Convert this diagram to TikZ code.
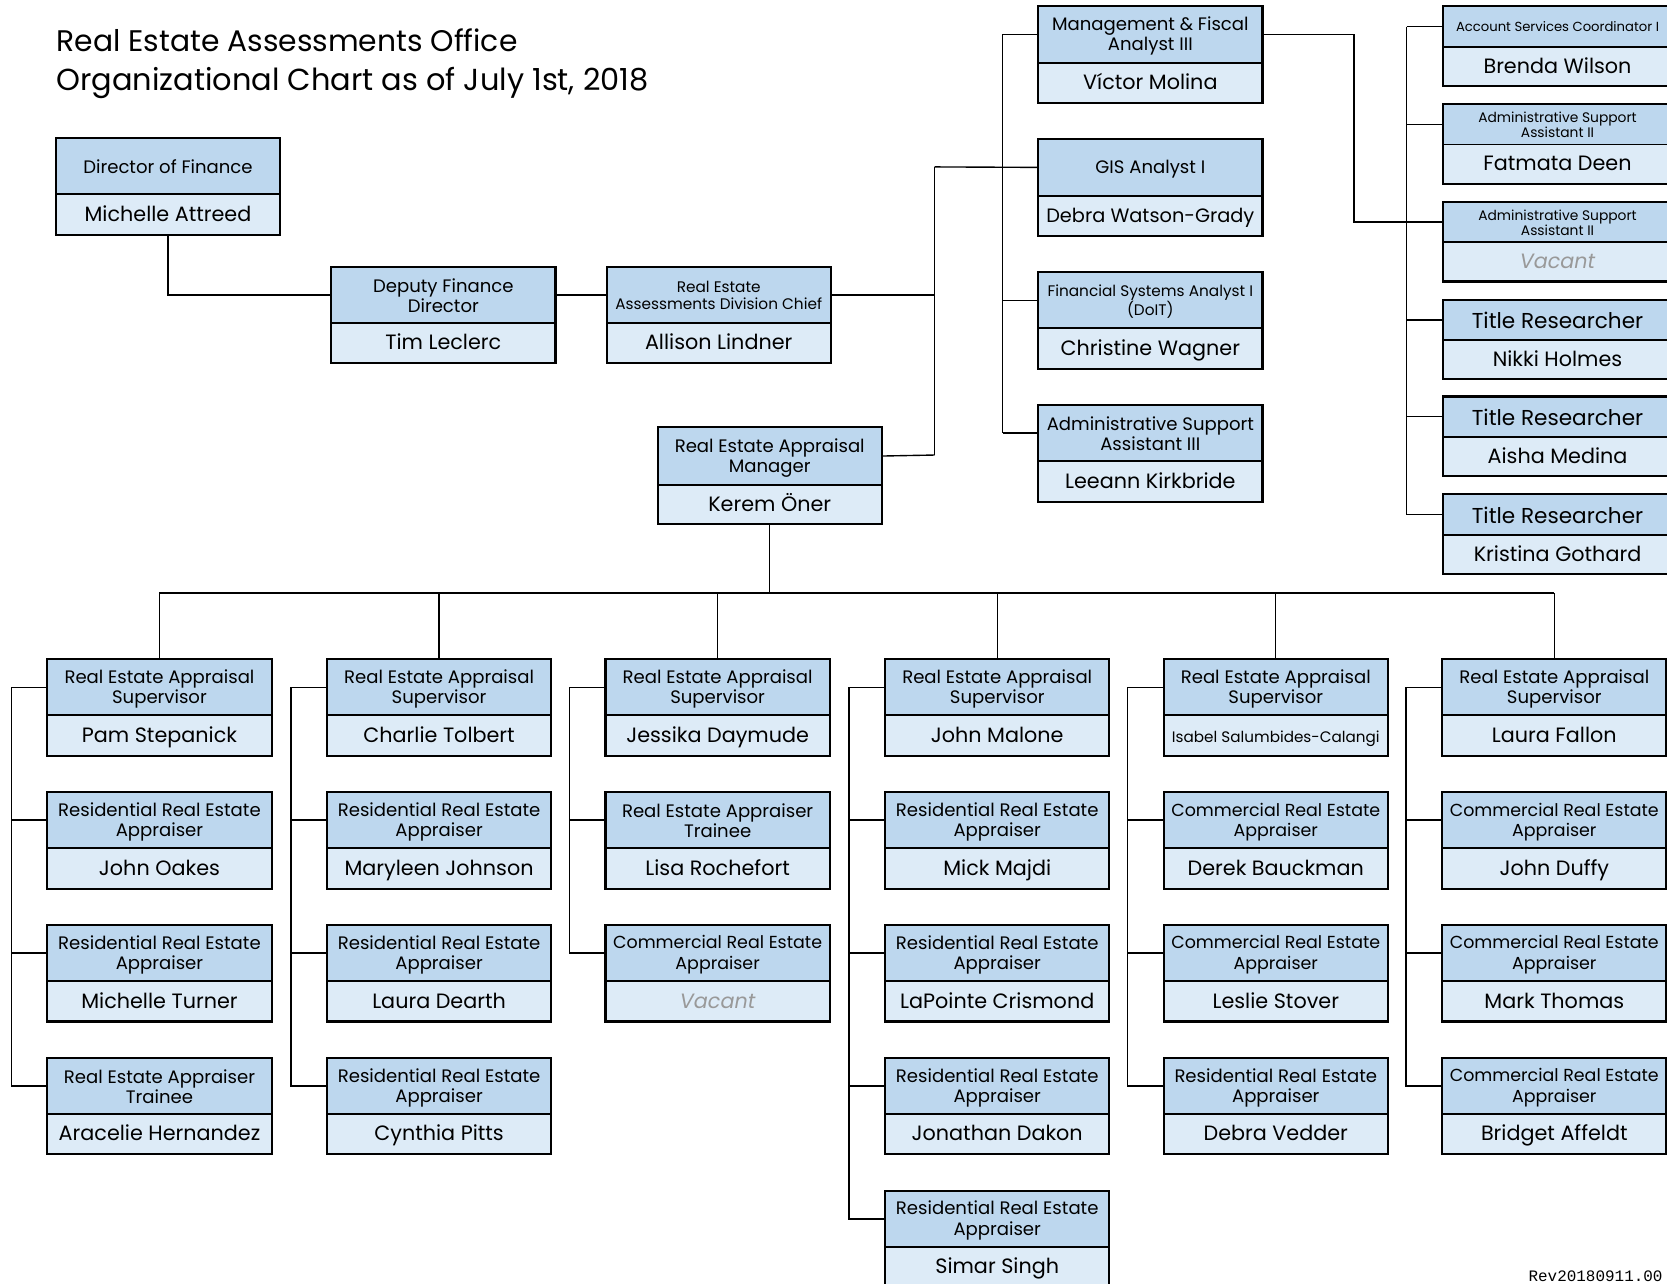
\documentclass[tikz,border=0pt]{standalone}
\usepackage{fontspec}
\setmainfont{Poppins}
\setmonofont{Liberation Mono}
\definecolor{hdrc}{HTML}{BDD7EE}
\definecolor{nmc}{HTML}{DDEBF7}
\definecolor{vac}{HTML}{999999}
\def\boxw{210}
\tikzset{
  hdr/.style={draw=black, line width=0.9pt, fill=hdrc, minimum width=\boxw pt, inner sep=0pt, align=center, font=\fontsize{17}{19}\selectfont},
  nm/.style={draw=black, line width=0.9pt, fill=nmc, minimum width=\boxw pt, inner sep=0pt, align=center, font=\fontsize{19.5}{22}\selectfont},
  hs/.style={font=\fontsize{14.4}{16}\selectfont},
  hxs/.style={font=\fontsize{12.4}{13.8}\selectfont},
  hxt/.style={font=\fontsize{13}{14}\selectfont},
  hbig/.style={font=\fontsize{20.3}{22}\selectfont},
  hcom/.style={font=\fontsize{16.4}{19}\selectfont},
  outer/.style={line width=2pt},
  conn/.style={line width=1.3pt, line join=miter}
}
\newcommand\topr{\rule{0pt}{0.95em}}
\newcommand\botr{\rule[-0.12em]{0pt}{0.12em}}
\newcommand\nmr{\rule[-0.25em]{0pt}{1.15em}}
\newcommand\obox[8]{%
  \node[hdr,#6,minimum height=#4pt,anchor=north] (#1) at (#2,#3) {\topr#7\botr};
  \node[nm,minimum height=#5pt,anchor=north] (#1n) at (#1.south) {\nmr#8};
  \draw[outer] (#1.north west) rectangle (#1n.south east);}
\newcommand\vac{{\color{vac}\itshape Vacant}}
\begin{document}
\begin{tikzpicture}[x=1pt,y=-1pt]
\useasboundingbox[fill=white] (0,0) rectangle (1568,1207);
\clip (0,0) rectangle (1568,1207);
% title
\node[anchor=base west, inner sep=0pt, font=\fontsize{28}{32}\selectfont] (t1) at (53,48) {Real Estate Assessments Office};
\node[anchor=base west, inner sep=0pt, font=\fontsize{28.6}{32}\selectfont] (t2) at (53,85) {Organizational Chart as of July 1st, 2018};
% top management
\obox{dir}{158}{130}{52}{37}{}{Director of Finance}{Michelle Attreed}
\obox{dep}{417}{251}{52}{37}{}{Deputy Finance\\Director}{Tim Leclerc}
\obox{chf}{676}{251}{52}{37}{hs}{Real Estate\\Assessments Division Chief}{Allison Lindner}
\obox{mgr}{724}{402}{53}{36}{}{Real Estate Appraisal\\Manager}{Kerem Öner}
% middle column
\obox{mfa}{1082}{6}{52}{37}{}{Management \& Fiscal\\Analyst III}{Víctor Molina}
\obox{gis}{1082}{131}{52}{37}{}{GIS Analyst I}{{\fontsize{18.2}{20}\selectfont Debra Watson-Grady}}
\obox{fsa}{1082}{256}{52}{37}{hs}{Financial Systems Analyst I\\(DoIT)}{Christine Wagner}
\obox{asa}{1082}{381}{52}{37}{}{Administrative Support\\Assistant III}{Leeann Kirkbride}
% right column
\def\boxw{214}
\obox{acs}{1465}{6}{37}{36}{hxs}{Account Services Coordinator I}{Brenda Wilson}
\obox{asb}{1465}{98}{37}{36}{hxt}{Administrative Support\\Assistant II}{Fatmata Deen}
\obox{asv}{1465}{190}{37}{36}{hxt}{Administrative Support\\Assistant II}{\vac}
\obox{tra}{1465}{282}{37}{36}{hbig}{Title Researcher}{Nikki Holmes}
\obox{trb}{1465}{373}{37}{36}{hbig}{Title Researcher}{Aisha Medina}
\obox{trc}{1465}{465}{37}{36}{hbig}{Title Researcher}{Kristina Gothard}
\def\boxw{210}
% bottom columns
\obox{c1a}{150}{620}{52}{37}{}{Real Estate Appraisal\\Supervisor}{Pam Stepanick}
\obox{c1b}{150}{745}{52}{37}{}{Residential Real Estate\\Appraiser}{John Oakes}
\obox{c1c}{150}{870}{52}{37}{}{Residential Real Estate\\Appraiser}{Michelle Turner}
\obox{c1d}{150}{995}{52}{37}{}{Real Estate Appraiser\\Trainee}{Aracelie Hernandez}
\obox{c2a}{413}{620}{52}{37}{}{Real Estate Appraisal\\Supervisor}{Charlie Tolbert}
\obox{c2b}{413}{745}{52}{37}{}{Residential Real Estate\\Appraiser}{Maryleen Johnson}
\obox{c2c}{413}{870}{52}{37}{}{Residential Real Estate\\Appraiser}{Laura Dearth}
\obox{c2d}{413}{995}{52}{37}{}{Residential Real Estate\\Appraiser}{Cynthia Pitts}
\obox{c3a}{675}{620}{52}{37}{}{Real Estate Appraisal\\Supervisor}{Jessika Daymude}
\obox{c3b}{675}{745}{52}{37}{}{Real Estate Appraiser\\Trainee}{Lisa Rochefort}
\obox{c3c}{675}{870}{52}{37}{hcom}{Commercial Real Estate\\Appraiser}{\vac}
\obox{c4a}{938}{620}{52}{37}{}{Real Estate Appraisal\\Supervisor}{John Malone}
\obox{c4b}{938}{745}{52}{37}{}{Residential Real Estate\\Appraiser}{Mick Majdi}
\obox{c4c}{938}{870}{52}{37}{}{Residential Real Estate\\Appraiser}{LaPointe Crismond}
\obox{c4d}{938}{995}{52}{37}{}{Residential Real Estate\\Appraiser}{Jonathan Dakon}
\obox{c4e}{938}{1120}{52}{37}{}{Residential Real Estate\\Appraiser}{Simar Singh}
\obox{c5a}{1200}{620}{52}{37}{}{Real Estate Appraisal\\Supervisor}{{\fontsize{14.3}{16}\selectfont Isabel Salumbides-Calangi}}
\obox{c5b}{1200}{745}{52}{37}{hcom}{Commercial Real Estate\\Appraiser}{Derek Bauckman}
\obox{c5c}{1200}{870}{52}{37}{hcom}{Commercial Real Estate\\Appraiser}{Leslie Stover}
\obox{c5d}{1200}{995}{52}{37}{}{Residential Real Estate\\Appraiser}{Debra Vedder}
\obox{c6a}{1462}{620}{52}{37}{}{Real Estate Appraisal\\Supervisor}{Laura Fallon}
\obox{c6b}{1462}{745}{52}{37}{hcom}{Commercial Real Estate\\Appraiser}{John Duffy}
\obox{c6c}{1462}{870}{52}{37}{hcom}{Commercial Real Estate\\Appraiser}{Mark Thomas}
\obox{c6d}{1462}{995}{52}{37}{hcom}{Commercial Real Estate\\Appraiser}{Bridget Affeldt}
% connectors: top
\draw[conn] (dirn.south) |- (dep.west);
\draw[conn] (dep.east) -- (chf.west);
\coordinate (ta) at (879,157);
\coordinate (tb) at (879,428);
\draw[conn] (chf.east) -- (chf.east -| ta);
\draw[conn] (ta) -- (tb);
\draw[conn] (mgr.east) -- (tb);
\draw[conn] (ta) -- (gis.west);
\coordinate (sm) at (943,0);
\draw[conn] (mfa.west -| sm) -- (asa.west -| sm);
\foreach \b in {mfa,fsa,asa} \draw[conn] (\b.west -| sm) -- (\b.west);
\draw[conn] (mfa.east) -- ++(86,0) |- (asv.west);
\coordinate (sr) at (1323,0);
\draw[conn] (acs.west -| sr) -- (trc.west -| sr);
\foreach \b in {acs,asb,asv,tra,trb,trc} \draw[conn] (\b.west -| sr) -- (\b.west);
% bottom bus
\draw[conn] (mgrn.south) -- ++(0,65) coordinate (bus);
\draw[conn] (c1a.north |- bus) -- (c6a.north |- bus);
\foreach \b in {c1a,c2a,c3a,c4a,c5a,c6a} \draw[conn] (\b.north |- bus) -- (\b.north);
% group spines
\draw[conn] (c1a.west) -- ++(-34,0) |- (c1d.west);
\foreach \b in {c1b,c1c} \draw[conn] (\b.west) -- ++(-34,0);
\draw[conn] (c2a.west) -- ++(-34,0) |- (c2d.west);
\foreach \b in {c2b,c2c} \draw[conn] (\b.west) -- ++(-34,0);
\draw[conn] (c3a.west) -- ++(-34,0) |- (c3c.west);
\draw[conn] (c3b.west) -- ++(-34,0);
\draw[conn] (c4a.west) -- ++(-34,0) |- (c4e.west);
\foreach \b in {c4b,c4c,c4d} \draw[conn] (\b.west) -- ++(-34,0);
\draw[conn] (c5a.west) -- ++(-34,0) |- (c5d.west);
\foreach \b in {c5b,c5c} \draw[conn] (\b.west) -- ++(-34,0);
\draw[conn] (c6a.west) -- ++(-34,0) |- (c6d.west);
\foreach \b in {c6b,c6c} \draw[conn] (\b.west) -- ++(-34,0);
% revision
\node[anchor=base east, inner sep=0pt, font=\ttfamily\fontsize{15}{15}\selectfont] (rev) at (1564,1205) {Rev20180911.00};
\end{tikzpicture}
\end{document}
